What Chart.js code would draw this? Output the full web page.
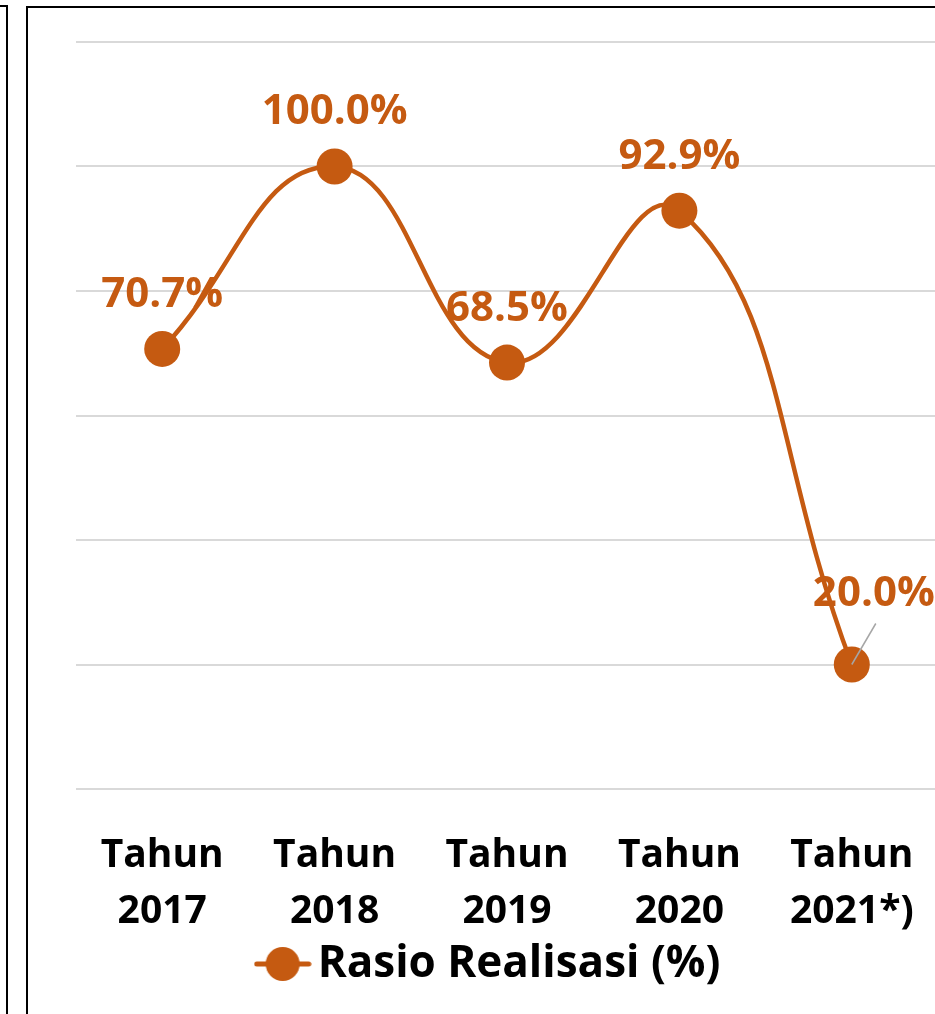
<!DOCTYPE html>
<html>
<head>
<meta charset="utf-8">
<script src="https://cdn.jsdelivr.net/npm/chart.js@4.4.1/dist/chart.umd.min.js"></script>
<style>
  html, body { margin: 0; padding: 0; background: #fff; overflow: hidden; }
  body { width: 935px; height: 1014px; position: relative; }
  #prev { position: absolute; left: 0; top: 5px; width: 6px; height: 1100px; border-top: 2px solid #000; border-right: 2px solid #000; }
  #frame { position: absolute; left: 26px; top: 6px; width: 1000px; height: 1100px; border-top: 2px solid #000; border-left: 2px solid #000; }
  #wrap { position: absolute; left: 0; top: 0; width: 960px; height: 1014px; }
</style>
</head>
<body>
<div id="prev"></div>
<div id="frame"></div>
<div id="wrap"><canvas id="chart"></canvas></div>
<script>
// Data
const years = [['Tahun', '2017'], ['Tahun', '2018'], ['Tahun', '2019'], ['Tahun', '2020'], ['Tahun', '2021*)']];
const ratio = [70.7, 100.0, 68.5, 92.9, 20.0];
const seriesName = 'Rasio Realisasi (%)';
const yTicks = [0, 20, 40, 60, 80, 100, 120];

const orange = '#C55A11';
const fontFamily = '"Open Sans", Lato, sans-serif';

// Legend marker: line with a circle in the middle
function legendMarker() {
  const c = document.createElement('canvas');
  c.width = 58; c.height = 36;
  const g = c.getContext('2d');
  g.strokeStyle = orange;
  g.lineWidth = 5;
  g.lineCap = 'round';
  g.beginPath(); g.moveTo(3, 18); g.lineTo(55, 18); g.stroke();
  g.fillStyle = orange;
  g.beginPath(); g.arc(29, 18, 17, 0, Math.PI * 2); g.fill();
  return c;
}

// Draw value labels above each point
const valueLabels = {
  id: 'valueLabels',
  afterLayout(chart) {
    // legend sits a little left of centre in the original
    chart.legend.left -= 12;
    chart.legend.right -= 12;
  },
  afterDatasetsDraw(chart) {
    const ctx = chart.ctx;
    const meta = chart.getDatasetMeta(0);
    ctx.save();
    ctx.font = 'bold 42px ' + fontFamily;
    ctx.textAlign = 'center';
    ctx.textBaseline = 'middle';
    meta.data.forEach((pt, i) => {
      let dx = 0, dy = -54;
      if (i === ratio.length - 1) {
        dx = 22; dy = -70;
        // leader line
        ctx.strokeStyle = '#a6a6a6';
        ctx.lineWidth = 1.5;
        ctx.beginPath();
        ctx.moveTo(pt.x, pt.y);
        ctx.lineTo(pt.x + 24, pt.y - 41);
        ctx.stroke();
      }
      ctx.fillStyle = orange;
      ctx.fillText(ratio[i].toFixed(1) + '%', pt.x + dx, pt.y + dy);
    });
    ctx.restore();
  }
};

const ctx = document.getElementById('chart').getContext('2d');
new Chart(ctx, {
  type: 'line',
  data: {
    labels: years,
    datasets: [{
      label: seriesName,
      data: ratio,
      borderColor: orange,
      backgroundColor: orange,
      borderWidth: 4.5,
      tension: 0.45,
      pointStyle: 'circle',
      pointRadius: 18,
      pointHoverRadius: 18,
      pointBackgroundColor: orange,
      pointBorderWidth: 0
    }]
  },
  options: {
    responsive: true,
    maintainAspectRatio: false,
    animation: false,
    layout: { padding: { left: 76, right: 22, top: 42, bottom: 18 } },
    scales: {
      x: {
        offset: true,
        grid: { display: false, offset: true },
        border: { display: false },
        ticks: {
          color: '#000',
          font: { family: fontFamily, size: 39, weight: 'bold', lineHeight: '56px' },
          padding: 31,
          maxRotation: 0,
          autoSkip: false
        },
        afterFit(axis) { axis.height = 147; }
      },
      y: {
        min: 0,
        max: 120,
        afterBuildTicks(axis) { axis.ticks = yTicks.map(v => ({ value: v })); },
        grid: { color: '#d9d9d9', lineWidth: 2, drawTicks: false },
        border: { display: false },
        ticks: { display: false }
      }
    },
    plugins: {
      legend: {
        position: 'bottom',
        labels: {
          color: '#000',
          font: { family: fontFamily, size: 44, weight: 'bold' },
          usePointStyle: true,
          pointStyleWidth: 26,
          padding: 6,
          generateLabels() {
            return [{ text: seriesName, pointStyle: legendMarker(), fillStyle: orange, strokeStyle: orange, lineWidth: 0, datasetIndex: 0 }];
          }
        }
      },
      tooltip: { enabled: false }
    }
  },
  plugins: [valueLabels]
});
</script>
</body>
</html>
